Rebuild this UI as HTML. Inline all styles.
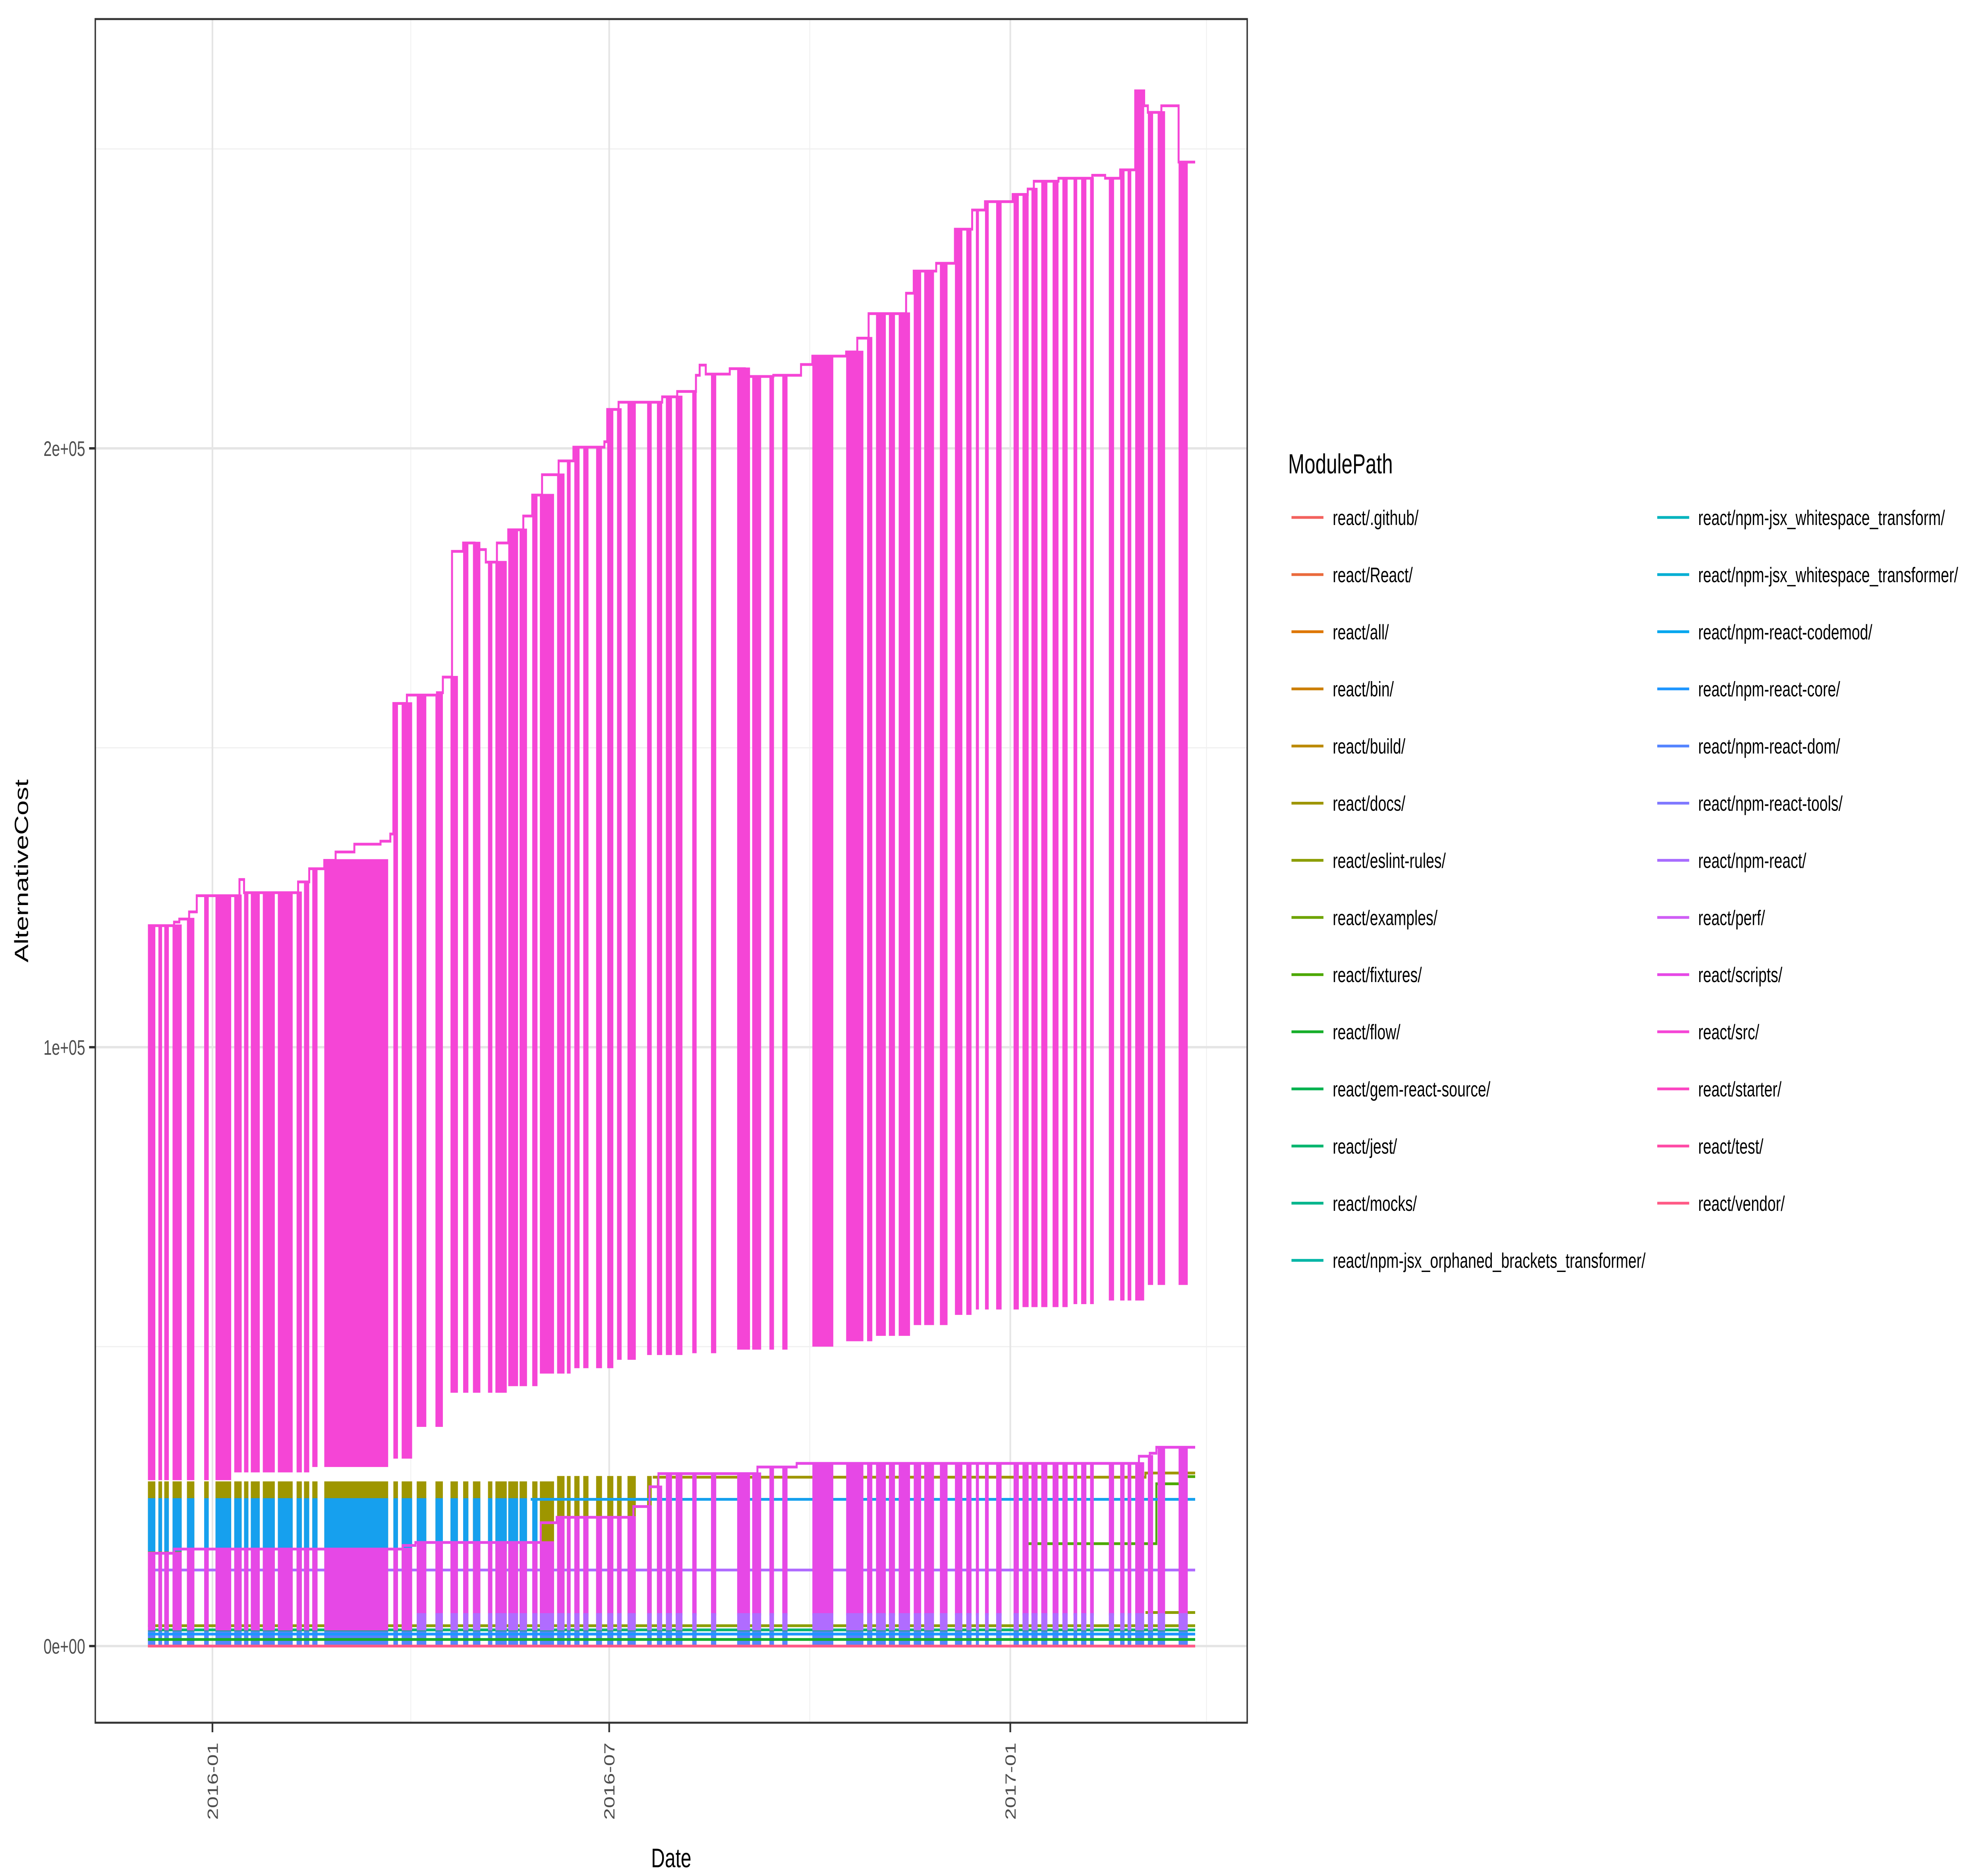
<!DOCTYPE html>
<html><head><meta charset="utf-8"><style>
html,body{margin:0;padding:0;background:#fff;width:100%;height:100%;overflow:hidden;}
svg{display:block;width:100vw;height:100vh;font-family:"Liberation Sans",Arial,sans-serif;}
</style></head><body>
<svg id="chart" viewBox="0 0 7086 4724" preserveAspectRatio="none" xmlns="http://www.w3.org/2000/svg">
<rect x="0" y="0" width="7086" height="4724" fill="#fff"/>
<g id="grid"></g>
<g id="series"></g>
<g id="axes"></g>
<g id="legend"></g>
</svg>
<script>
// ---- data (days relative to 2016-01-01, values in AlternativeCost) ----
const blockStart = [-29.6,-24.8,-22.1,-18.3,-11.7,-3.8,1.4,10.0,14.5,17.6,23.1,30.0,38.6,42.0,45.8,51.3,83.0,86.8,93.7,102.3,109.2,115.0,119.5,126.4,129.8,135.7,140.9,146.7,150.2,158.1,162.6,166.0,170.1,176.0,181.1,185.6,190.4,199.4,203.9,208.0,212.5,220.1,228.7,240.7,247.6,255.5,261.4,275.2,290.7,300.3,304.4,310.3,314.8,321.7,326.5,333.7,340.6,345.8,350.2,354.4,359.5,367.5,371.6,375.7,380.2,385.4,389.9,395.0,398.5,402.6,411.2,416.4,419.8,423.3,429.1,433.6,443.2];
const blockEnd   = [-26.2,-23.1,-20.0,-14.1,-8.3,-1.7,8.6,13.4,16.5,21.7,28.6,36.8,41.0,44.4,48.2,80.6,85.1,91.6,98.1,105.7,112.6,117.4,122.9,128.4,135.0,140.2,144.3,149.1,156.7,161.5,164.3,168.4,172.5,178.7,183.9,187.7,194.2,201.5,206.3,210.8,215.6,222.1,231.1,246.6,251.7,257.6,263.8,284.8,298.6,302.7,308.9,313.1,320.0,325.1,331.0,337.2,344.0,348.2,351.6,356.1,362.0,369.9,374.4,378.5,383.0,388.1,392.3,396.7,400.9,404.3,413.6,418.4,421.5,427.4,431.5,437.0,447.4];
const endDay = 450.8;
const srcHighDays = [-29.6,-17.6,-15.2,-10.7,-7.2,12.4,14.5,39.3,44.4,51.3,56.5,65.1,77.1,81.6,83.0,89.2,103.0,105.7,109.9,115.0,120.2,125.4,130.5,135.7,142.6,146.7,151.2,158.8,165.6,179.8,181.1,186.3,206.3,213.2,221.8,223.5,226.3,237.3,244.2,257.3,270.0,275.2,290.7,295.8,301.0,318.2,321.7,332.0,340.6,348.5,354.4,367.1,374.0,376.8,388.1,403.6,409.5,416.4,423.3,427.4,429.1,435.3,443.2];
const srcHighVals = [120300,120900,121400,122600,125300,128000,125800,127600,129800,131200,132600,133900,134400,135600,157400,158800,159200,161800,182800,184200,183100,181000,184200,186400,188700,192200,195600,197900,200200,201100,206500,207700,208600,209500,212200,213900,212400,213300,212000,212200,214000,215400,216100,218400,222500,225900,229600,230900,236600,239800,241200,242400,243300,244600,245100,245600,245100,246500,259700,257200,256100,257200,247800];
const srcLowDays = [-29.6,10.0,44.4,61.6,82.3,87.5,106.4,134.0,147.7,165.0,182.2,199.4,213.2,240.7,275.2,290.7,302.7,320.0,337.2,347.5,368.2,392.3,411.2,425.0,443.9];
const srcLowVals = [27900,29200,30100,31000,31500,36800,42500,43600,45700,46600,48000,48800,49100,49700,50200,51100,52000,53800,55500,56400,56800,57300,57900,60500,58200];
const scriptsDays = [-29.6,-17.6,87.3,93.1,150.6,157.9,193.1,200.5,204.6,250.0,268.0,425.0,430.0,433.0];
const scriptsVals = [15500,16200,16800,17300,20600,21500,23300,26600,28800,29900,30500,31700,32200,33200];
const scriptsLowEarly = 2800, scriptsLowLate = 5300, scriptsLowChange = 88;
const docsDays = [-29.6,153.0,428.0];
const docsVals = [27300,28200,28900];
const docsBlockUntil = 205;
const codemodVal = 24500, codemodBlockUntil = 150, codemodLow = 16000;
const npmReactVal = 12700;
const flatNames = ['react/eslint-rules/','react/jest/','react/npm-react-core/','react/flow/','react/vendor/'];
const flatVals = [3400,2700,2000,1100,0];
const fixturesDays = [374.0,422.6,433.0,444.0];
const fixturesVals = [17100,17100,27100,28300];
const yTickVals = [0,100000,200000];
const yTickLabels = ['0e+00','1e+05','2e+05'];
const yMinorVals = [50000,150000,250000];
const xTickDays = [0,182,366];
const xTickLabels = ['2016-01','2016-07','2017-01'];
const xMinorDays = [91,274,456];
const legendNames = ['react/.github/','react/React/','react/all/','react/bin/','react/build/','react/docs/','react/eslint-rules/','react/examples/','react/fixtures/','react/flow/','react/gem-react-source/','react/jest/','react/mocks/','react/npm-jsx_orphaned_brackets_transformer/','react/npm-jsx_whitespace_transform/','react/npm-jsx_whitespace_transformer/','react/npm-react-codemod/','react/npm-react-core/','react/npm-react-dom/','react/npm-react-tools/','react/npm-react/','react/perf/','react/scripts/','react/src/','react/starter/','react/test/','react/vendor/'];
const legendColors = ['#F3625E','#EA6A3C','#DE7600','#CC7F00','#BC8A00','#9E9600','#8C9E00','#6EA400','#4CA800','#16AE2A','#00B24F','#00B56E','#00B58C','#00B5A6','#00B3BD','#00AED3','#00A6EE','#1E96FF','#5585FF','#8079FF','#A86CFF','#CF5EF5','#E648E6','#F545D6','#FB45C2','#FF4AA6','#FF5A86'];

// ---- scales ----
const PL=340, PR=4450, PT=48, PB=4338;
function X(d){ return 758 + d*7.778; }
function Y(v){ return 4145 - v*0.01508; }
function stepAt(days, vals, d){ let v=vals[0]; for(let i=0;i<days.length;i++){ if(days[i]<=d) v=vals[i]; } return v; }
const NS='http://www.w3.org/2000/svg';
function mk(tag, attrs, parent){ const e=document.createElementNS(NS,tag); for(const k in attrs) e.setAttribute(k,attrs[k]); parent.appendChild(e); return e; }
const grid=document.getElementById('grid'), series=document.getElementById('series'), axes=document.getElementById('axes'), legend=document.getElementById('legend');

// ---- grid ----
yMinorVals.forEach(v=>{ const l=mk('line',{x1:PL,x2:PR,y1:Y(v),y2:Y(v),stroke:'#F0F0F0','stroke-width':3},grid);

 });
xMinorDays.forEach(d=>{ const l=mk('line',{x1:X(d),x2:X(d),y1:PT,y2:PB,stroke:'#F0F0F0','stroke-width':3},grid);

 });
yTickVals.forEach(v=>{ const l=mk('line',{x1:PL,x2:PR,y1:Y(v),y2:Y(v),stroke:'#E5E5E5','stroke-width':6},grid);

 });
xTickDays.forEach(d=>{ const l=mk('line',{x1:X(d),x2:X(d),y1:PT,y2:PB,stroke:'#E5E5E5','stroke-width':6},grid);

 });

// ---- helpers ----
function stepPath(days, vals, from, to){
  let d=''; let first=true;
  for(let i=0;i<days.length;i++){
    const a=Math.max(days[i],from), b=Math.min(i+1<days.length?days[i+1]:to,to);
    if(b<a) continue;
    if(first){ d+='M'+X(a)+','+Y(vals[i]); first=false; } else { d+='L'+X(a)+','+Y(vals[i]); }
    d+='L'+X(b)+','+Y(vals[i]);
  }
  return d;
}
function blockRects(color, topFn, lowFn, until, name, from){
  const g=mk('g',{},series);
  
  
  for(let i=0;i<blockStart.length;i++){
    const s=blockStart[i], e=Math.min(blockEnd[i],until);
    if(e<=s) continue;
    if(from!==undefined && s<from) continue;
    const top=Y(topFn(s)), bot=Y(lowFn(s));
    const r=mk('rect',{x:X(s),y:top-3,width:X(e)-X(s),height:bot-top+6,fill:color},g);
    
    
  }
  return g;
}
function hline(v, from, to, color, name){
  const l=mk('line',{x1:X(from),x2:X(to),y1:Y(v),y2:Y(v),stroke:color,'stroke-width':7},series);
  
  
}

// ---- low flat series ----
hline(0,-29.6,endDay,'#F3625E','series-github');
blockRects('#5585FF',()=>2300,()=>300,endDay,'series-npm-react-dom');
flatNames.forEach((n,i)=>{ hline(flatVals[i],-29.6,endDay,legendColors[legendNames.indexOf(n)],'series-'+n.replace('react/','').replace('/','')); });

// ---- fixtures ----
(function(){ const p=mk('path',{d:stepPath(fixturesDays,fixturesVals,fixturesDays[0],endDay),fill:'none',stroke:'#4CA800','stroke-width':7},series);

 })();
hline(5600,428,endDay,'#8C9E00','series-examples');

// ---- docs ----
blockRects('#9E9600',d=>stepAt(docsDays,docsVals,d),()=>3300,docsBlockUntil,'series-docs');
(function(){ const p=mk('path',{d:stepPath(docsDays,docsVals,docsBlockUntil-3,endDay),fill:'none',stroke:'#9E9600','stroke-width':7},series);

 })();

// ---- codemod (blue) ----
blockRects('#16A0EE',()=>codemodVal,()=>codemodLow,codemodBlockUntil,'series-npm-react-codemod');
hline(codemodVal,codemodBlockUntil-4,endDay,'#16A0EE','series-npm-react-codemod-line');

// ---- npm-react (purple) ----
hline(npmReactVal,-29.6,endDay,'#B06CFF','series-npm-react');

// ---- scripts ----
const scrLow=d=> d<scriptsLowChange?scriptsLowEarly:scriptsLowLate;
blockRects('#E648E6',d=>stepAt(scriptsDays,scriptsVals,d),scrLow,endDay,'series-scripts');
(function(){ const p=mk('path',{d:stepPath(scriptsDays,scriptsVals,-29.6,endDay),fill:'none',stroke:'#E648E6','stroke-width':7},series);

 })();
blockRects('#B06CFF',()=>scriptsLowLate,()=>scriptsLowEarly,endDay,'series-npm-react-tools',scriptsLowChange);

// ---- src ----
blockRects('#F545D6',d=>stepAt(srcHighDays,srcHighVals,d),d=>stepAt(srcLowDays,srcLowVals,d),endDay,'series-src');
(function(){ const p=mk('path',{d:stepPath(srcHighDays,srcHighVals,-29.6,endDay),fill:'none',stroke:'#F545D6','stroke-width':7},series);

 })();

// ---- axes ----
(function(){
  const b=mk('rect',{x:PL,y:PT,width:PR-PL,height:PB-PT,fill:'none',stroke:'#333','stroke-width':5},axes);
  
  
  yTickVals.forEach((v,i)=>{
    const t=mk('line',{x1:PL-22,x2:PL,y1:Y(v),y2:Y(v),stroke:'#333','stroke-width':6},axes);
    
    
    const tx=mk('text',{x:PL-36,y:Y(v)+19,'text-anchor':'end','font-size':53,fill:'#4D4D4D'},axes);
    tx.textContent=yTickLabels[i];
    
    
  });
  xTickDays.forEach((d,i)=>{
    const t=mk('line',{x1:X(d),x2:X(d),y1:PB,y2:PB+24,stroke:'#333','stroke-width':6},axes);
    
    
    const x=X(d)+19, y=PB+50;
    const tx=mk('text',{x:x,y:y,'text-anchor':'end','font-size':53,fill:'#4D4D4D',transform:'rotate(-90 '+x+' '+y+')'},axes);
    tx.textContent=xTickLabels[i];
    
    
  });
  const xt=mk('text',{x:(PL+PR)/2,y:4702,'text-anchor':'middle','font-size':68,fill:'#000'},axes);
  xt.textContent='Date';
  
  
  const cy=(PT+PB)/2;
  const yt=mk('text',{x:100,y:cy,'text-anchor':'middle','font-size':68,fill:'#000',transform:'rotate(-90 100 '+cy+')'},axes);
  yt.textContent='AlternativeCost';
  
  
})();

// ---- legend ----
(function(){
  const t=mk('text',{x:4596,y:1192,'font-size':70,fill:'#000'},legend);
  t.textContent='ModulePath';
  
  
  legendNames.forEach((n,i)=>{
    const col=i<14?0:1, row=i<14?i:i-14;
    const cy=1303+row*143.9;
    const kx=col?5913:4608, tx=col?6059:4755;
    const g=mk('g',{},legend);
    
    
    const l=mk('line',{x1:kx,x2:kx+114,y1:cy,y2:cy,stroke:legendColors[i],'stroke-width':7},g);
    
    
    const tt=mk('text',{x:tx,y:cy+19,'font-size':53,fill:'#000'},g);
    tt.textContent=n;
    
    
  });
})();
</script>
</body></html>
